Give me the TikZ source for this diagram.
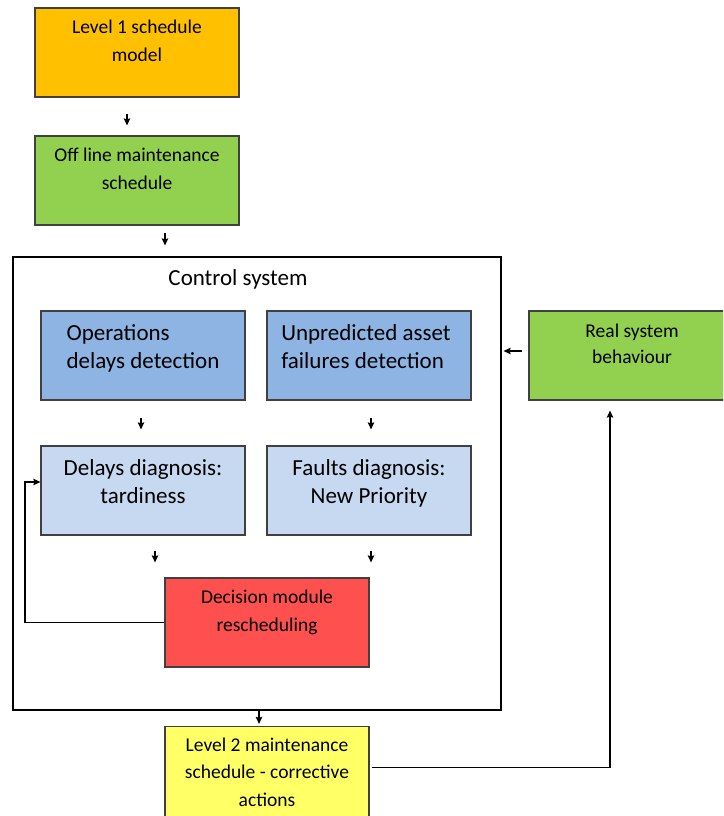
\documentclass[tikz,border=0pt]{standalone}
\usepackage{fontspec}
\setmainfont{Carlito}
\usetikzlibrary{arrows.meta,calc}
\definecolor{orangebox}{HTML}{FFC000}
\definecolor{greenbox}{HTML}{92D050}
\definecolor{bluebox}{HTML}{8EB4E3}
\definecolor{lightbluebox}{HTML}{C6D9F1}
\definecolor{redbox}{HTML}{FF5050}
\definecolor{yellowbox}{HTML}{FFFF66}
\definecolor{edge}{HTML}{404040}
\tikzset{
  block/.style={draw=edge, line width=1.2pt, minimum width=204pt, minimum height=89pt, inner sep=0pt},
  smalltext/.style={anchor=base, align=center, inner sep=0pt, font=\fontsize{19.5}{28}\selectfont},
  bigtext/.style={anchor=base, inner sep=0pt, font=\fontsize{23}{28}\selectfont},
  arr/.style={draw=black, line width=1.2pt, -{Stealth[length=7pt,width=6.5pt,inset=1pt]}},
}
\begin{document}
\begin{tikzpicture}[x=1pt,y=-1pt]
\useasboundingbox (0,0) rectangle (723,816);
\clip (0,0) rectangle (723,816);

% control system frame
\node[draw=black, line width=1.2pt, minimum width=488pt, minimum height=453pt, inner sep=0pt] (ctrl) at (257,483.5) {};
\node[bigtext] (ctrltitle) at (238,285) {Control system};

% boxes (text nodes are anchored on the baseline of their last line)
\node[block, fill=orangebox] (l1) at (137,52.5) {};
\node[smalltext] (l1t) at (137,61) {Level 1 schedule\\model};

\node[block, fill=greenbox] (off) at (137,180.5) {};
\node[smalltext] (offt) at (137,189) {Off line maintenance\\schedule};

\node[block, fill=bluebox] (ops) at (143,355.5) {};
\node[bigtext, align=left] (opst) at (143,368) {Operations\\delays detection};

\node[block, fill=bluebox] (unp) at (369,355.5) {};
\node[bigtext, align=left] (unpt) at (366,368) {Unpredicted asset\\failures detection};

\node[block, fill=lightbluebox] (dly) at (143,490.5) {};
\node[bigtext, align=center] (dlyt) at (143,503) {Delays diagnosis:\\tardiness};

\node[block, fill=lightbluebox] (flt) at (369,490.5) {};
\node[bigtext, align=center] (fltt) at (369,503) {Faults diagnosis:\\New Priority};

\node[block, fill=redbox] (dec) at (267,622.5) {};
\node[smalltext] (dect) at (267,631) {Decision module\\rescheduling};

\node[block, fill=yellowbox, minimum height=90pt] (lv2) at (267,771.5) {};
\node[smalltext, font=\fontsize{19.5}{27.5}\selectfont] (lv2t) at (267,806) {Level 2 maintenance\\schedule - corrective\\actions};

\node[block, fill=greenbox] (real) at (631,355.5) {};
\node[smalltext, font=\fontsize{19.5}{26}\selectfont] (realt) at (632,363) {Real system\\behaviour};

% feedback corner
\coordinate (fb) at (25,0);

% connectors
\draw[arr, shorten <=16pt, shorten >=10pt] ([xshift=-10pt]l1.south) -- ([xshift=-10pt]off.north);
\draw[arr, shorten <=7pt, shorten >=11pt] ([xshift=28pt]off.south) -- ([xshift=28pt]off.south |- ctrl.north);
\draw[arr, shorten <=17pt, shorten >=16pt] ([xshift=-2pt]ops.south) -- ([xshift=-2pt]dly.north);
\draw[arr, shorten <=17pt, shorten >=16pt] ([xshift=2pt]unp.south) -- ([xshift=2pt]flt.north);
\draw[arr, shorten <=15pt, shorten >=15pt] ([xshift=12pt]dly.south) -- ([xshift=12pt]dly.south |- dec.north);
\draw[arr, shorten <=15pt, shorten >=15pt] ([xshift=2pt]flt.south) -- ([xshift=2pt]flt.south |- dec.north);
\draw[arr] (dec.west) -- (dec.west -| fb) |- ([yshift=8.5pt]dly.west);
\draw[arr, shorten >=2pt] ([xshift=2pt]ctrl.south) -- ([xshift=2pt]ctrl.south |- lv2.north);
\draw[arr, shorten <=2pt, shorten >=10pt] ([yshift=4pt]lv2.east) -| ([xshift=-21pt]real.south);
\draw[arr, shorten <=6pt, shorten >=2pt] ([yshift=4.5pt]real.west) -- ([yshift=4.5pt]real.west -| ctrl.east);
\end{tikzpicture}
\end{document}
